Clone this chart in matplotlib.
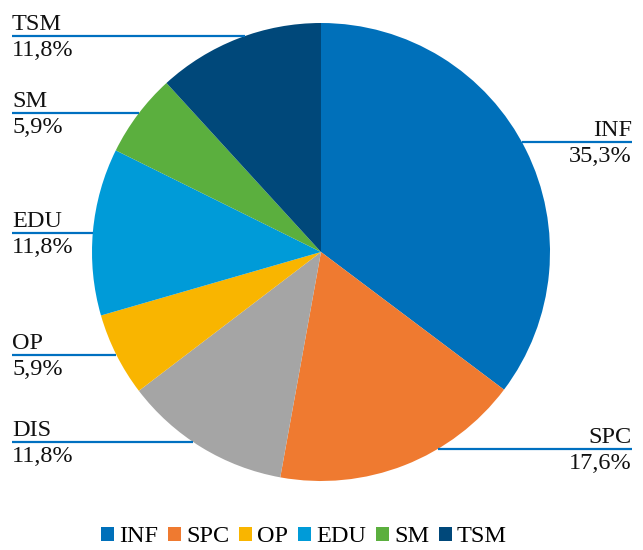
import numpy as np
import matplotlib.pyplot as plt
from matplotlib.patches import Patch

plt.rcParams['font.family'] = ['Liberation Serif', 'DejaVu Serif']

labels = ["INF", "SPC", "DIS", "OP", "EDU", "SM", "TSM"]
values = [35.3, 17.6, 11.8, 5.9, 11.8, 5.9, 11.8]
pct_text = ["35,3%", "17,6%", "11,8%", "5,9%", "11,8%", "5,9%", "11,8%"]
colors = ["#0070BA", "#EF7A30", "#A5A5A5", "#F9B500", "#009BD8", "#5BAF3E", "#00487A"]
legend_labels = ["INF", "SPC", "OP", "EDU", "SM", "TSM"]

# label line heights (pixels from top) and side
label_y = {"INF": 142, "SPC": 449, "DIS": 442, "OP": 355, "EDU": 233, "SM": 113, "TSM": 36}
label_side = {"INF": "right", "SPC": "right", "DIS": "left", "OP": "left",
              "EDU": "left", "SM": "left", "TSM": "left"}

W, H = 643, 550
cx, cy, r = 321, 252, 229

fig = plt.figure(figsize=(W / 100, H / 100), dpi=100)
ax = fig.add_axes([0, 0, 1, 1])

ax.pie(values, colors=colors, startangle=90, counterclock=False,
       center=(cx, H - cy), radius=r, wedgeprops=dict(linewidth=0), frame=True)
ax.set_xlim(0, W)
ax.set_ylim(0, H)
ax.set_aspect("equal")
ax.axis("off")

line_col = "#0070C0"
fs = 17.5
for lab, pct in zip(labels, pct_text):
    y = label_y[lab]
    dx = np.sqrt(r ** 2 - (y - cy) ** 2)
    yy = H - y
    if label_side[lab] == "left":
        x0, x1 = 12, cx - dx
        tx, ha = 12, "left"
    else:
        x0, x1 = cx + dx, 632
        tx, ha = 632, "right"
    ax.plot([x0, x1], [yy, yy], color=line_col, lw=1.6, solid_capstyle="butt")
    ax.text(tx, yy + 1, lab, ha=ha, va="bottom", fontsize=fs, color="#111111")
    ax.text(tx, yy - 4, pct, ha=ha, va="top", fontsize=fs, color="#111111")

handles = [Patch(facecolor=colors[labels.index(l)], edgecolor="none") for l in legend_labels]
fig.legend(handles, legend_labels, loc="center", bbox_to_anchor=(304 / W, 1 - 537 / H),
           ncol=6, frameon=False, fontsize=fs, handlelength=0.55, handleheight=0.55,
           handletextpad=0.2, columnspacing=0.4)

fig.savefig("out.png", dpi=100)
